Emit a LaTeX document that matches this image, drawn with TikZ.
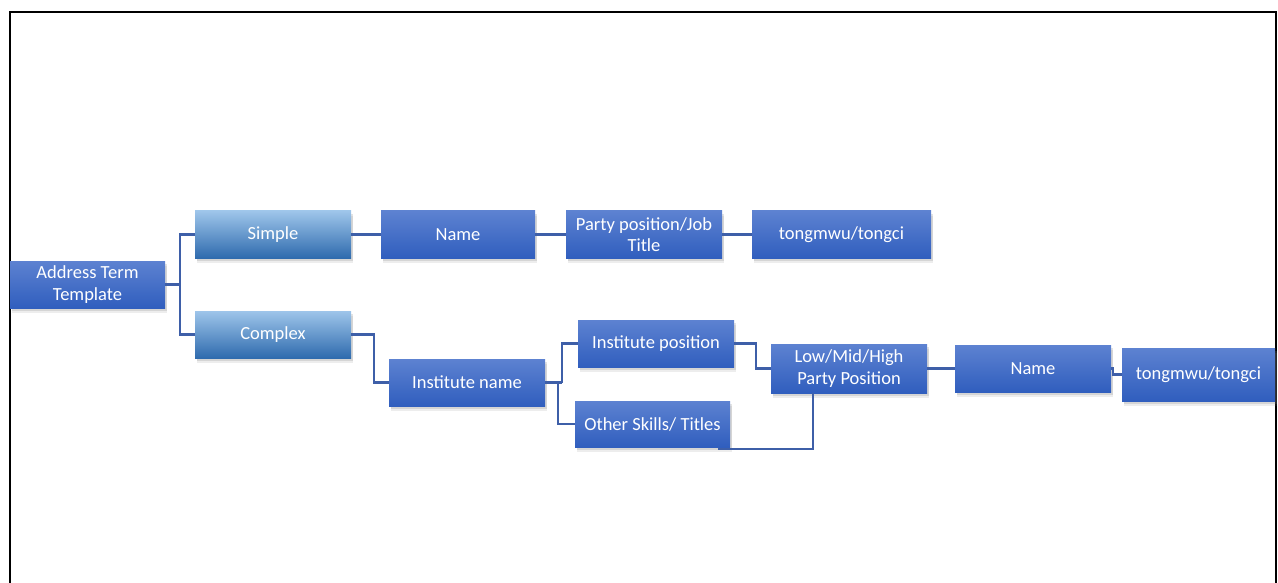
\documentclass[tikz,border=0pt]{standalone}
\usepackage{fontspec}
\setmainfont{Carlito}
\usetikzlibrary{shadows}

\definecolor{boxtop}{HTML}{5D82D1}
\definecolor{boxbot}{HTML}{305EBE}
\definecolor{lighttop}{HTML}{9EC5EA}
\definecolor{lightbot}{HTML}{2F6BAE}
\definecolor{wire}{HTML}{3E5FA8}

\tikzset{
  box/.style={rectangle, inner sep=0pt, align=center, text=white,
    font=\fontsize{18.5}{21.5}\selectfont,
    top color=boxtop, bottom color=boxbot,
    drop shadow={opacity=0.14, shadow xshift=2pt, shadow yshift=-5pt},
    drop shadow={opacity=0.22, shadow xshift=1.5pt, shadow yshift=-3pt}},
  lightbox/.style={box, top color=lighttop, bottom color=lightbot},
  wirestyle/.style={draw=wire, line width=2.4pt},
}

\begin{document}
\begin{tikzpicture}[x=1pt, y=-1pt]
  \useasboundingbox (0,0) rectangle (1278,583);
  \clip (0,0) rectangle (1278,583);

  % outer frame
  \draw[line width=2pt] (10,12) rectangle (1276,640);

  % boxes
  \node[box, minimum width=155pt, minimum height=47pt] (addr) at (87.5,284.5) {Address Term\\Template};
  \node[lightbox, minimum width=156pt, minimum height=47pt] (simple) at (273,234.5) {Simple};
  \node[lightbox, minimum width=156pt, minimum height=47pt] (complex) at (273,334.5) {Complex};

  \node[box, minimum width=154pt, minimum height=47pt] (name1) at (458,234.5) {Name};
  \node[box, minimum width=156pt, minimum height=47pt] (party) at (644,234.5) {Party position/Job\\Title};
  \node[box, minimum width=179pt, minimum height=47pt] (tong1) at (841.5,234.5) {tongmwu/tongci};

  \node[box, minimum width=156pt, minimum height=47pt] (instname) at (467,382.5) {Institute name};
  \node[box, minimum width=156pt, minimum height=47pt] (instpos) at (656,343.5) {Institute position};
  \node[box, minimum width=155pt, minimum height=46pt] (other) at (652.5,424) {Other Skills/ Titles};
  \node[box, minimum width=156pt, minimum height=49pt] (low) at (849,368.5) {Low/Mid/High\\Party Position};
  \node[box, minimum width=156pt, minimum height=47pt] (name2) at (1033,368.5) {Name};
  \node[box, minimum width=153pt, minimum height=53pt] (tong2) at (1198.5,374.5) {tongmwu/tongci};

  % connectors
  \draw[wirestyle] (addr.east) -- ++(15,0) coordinate (j1);
  \draw[wirestyle] (j1) |- (simple.west);
  \draw[wirestyle] (j1) |- (complex.west);

  \draw[wirestyle] (simple.east) -- (name1.west);
  \draw[wirestyle] (name1.east) -- (party.west);
  \draw[wirestyle] (party.east) -- (tong1.west);

  \draw[wirestyle] (complex.east) -- ++(23,0) |- (instname.west);
  \draw[wirestyle] (instname.east) -- ++(17,0) coordinate (j2);
  \draw[wirestyle] (j2) |- (instpos.west);
  \draw[wirestyle] ([xshift=-4pt]j2) |- (other.west);

  \draw[wirestyle] (instpos.east) -- ++(22,0) |- (low.west);
  \draw[wirestyle] ([xshift=-12pt, yshift=-2pt]other.south east) -| ([xshift=-36pt]low.south);

  \draw[wirestyle] (low.east) -- (name2.west);
  \draw[wirestyle] (name2.east) -- ++(2,0) |- (tong2.west);
\end{tikzpicture}
\end{document}
